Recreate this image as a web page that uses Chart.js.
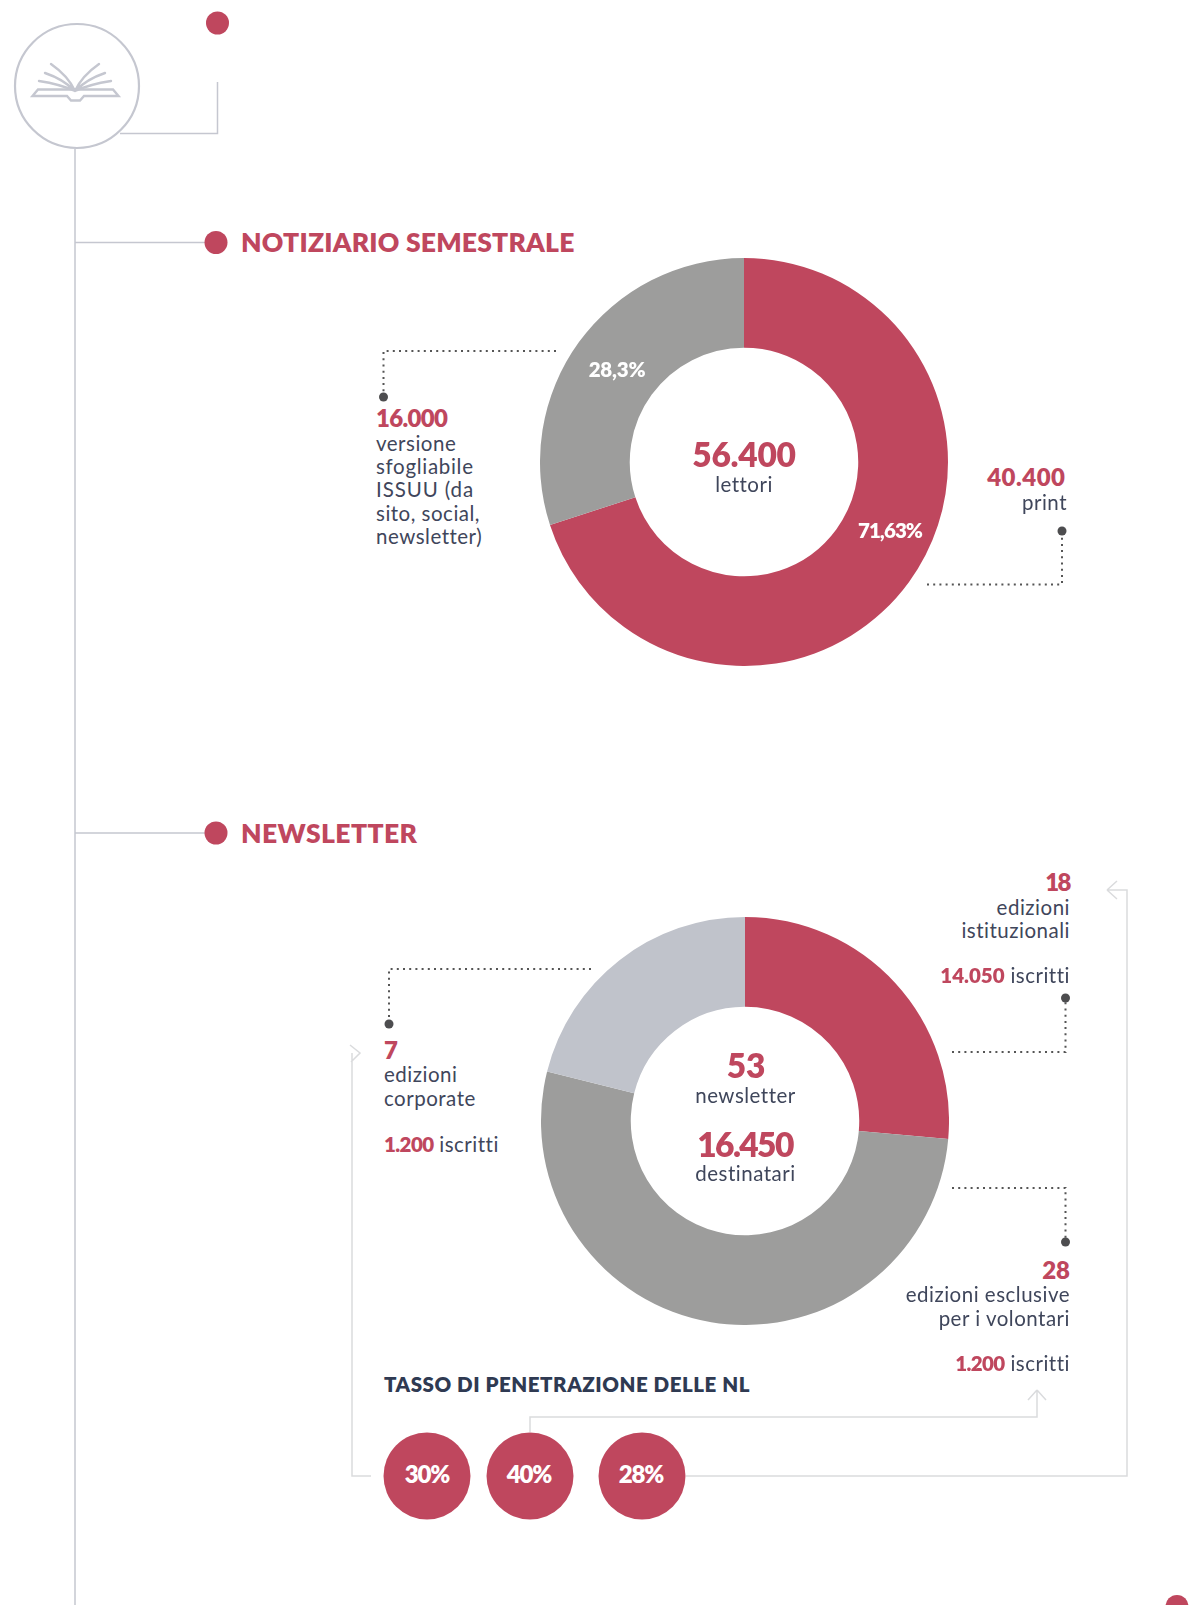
<!DOCTYPE html>
<html>
<head>
<meta charset="utf-8">
<title>Notiziario e newsletter</title>
<script src="https://cdn.jsdelivr.net/npm/chart.js@4"></script>
<style>
html, body { margin: 0; padding: 0; background: #fff; }
#page { position: relative; width: 1192px; height: 1605px; overflow: hidden; font-family: Lato, sans-serif; color: #3f465b; }
svg { position: absolute; left: 0; top: 0; }
canvas { position: absolute; }
.t { position: absolute; white-space: nowrap; line-height: 1; transform: translateY(-50%); font-size: 20.5px; font-weight: 400; letter-spacing: .5px; }
.r { color: #bf475e; font-weight: 800; letter-spacing: 0; }
.h { font-size: 26.5px; letter-spacing: .2px; }
.n { font-size: 24px; }
.big { font-size: 33.5px; letter-spacing: -.3px; }
.c { transform: translate(-50%, -50%); text-align: center; }
.e { transform: translate(-100%, -50%); text-align: right; }
.w { color: #fff; font-weight: 800; letter-spacing: -.2px; }
.p { font-size: 24px; letter-spacing: -1.2px; }
</style>
</head>
<body>
<div id="page">
  <svg width="1192" height="1605" fill="none">
    <g stroke="#c5c7d0" stroke-width="1.5">
      <circle cx="77" cy="86" r="62" stroke-width="2.2"/>
      <path d="M75 149V1605M75 242.5H206M75 833H206M120 133.5H217.5V82"/>
      <g stroke-width="2.4" stroke-linecap="round">
        <path d="M32.5 96L38 89.5H113L118.5 96H84L80 100.5H71L67 96Z"/>
        <path d="M75 91C70 80 61 71 51 64M99 64C89 71 80 80 75 91M75 91C67 83 57 77 45 73M105 73C93 77 83 83 75 91M75 91C64 86 52 83 39 81M111 81C98 83 86 86 75 91"/>
      </g>
    </g>
    <g fill="#bf475e">
      <circle cx="217.5" cy="23" r="11.5"/>
      <circle cx="216" cy="242.5" r="11.5"/>
      <circle cx="216" cy="833" r="11.5"/>
      <circle cx="1177" cy="1606.5" r="11.5"/>
      <circle cx="427" cy="1476" r="43.5"/>
      <circle cx="530" cy="1476" r="43.5"/>
      <circle cx="642" cy="1476" r="43.5"/>
    </g>
    <g stroke="#dadbdd" stroke-width="1.5">
      <path d="M371 1476H352V1053M350 1045L360 1053L351 1062"/>
      <path d="M686 1476H1127V890H1107M1107 890L1117 881M1107 890L1117 899"/>
      <path d="M530 1432V1417H1037V1390M1037 1390L1028 1400M1037 1390L1046 1400"/>
    </g>
    <g stroke="#555" stroke-width="2" stroke-dasharray="2 4.2">
      <path d="M556 351H383.5V392"/>
      <path d="M927 584.5H1062V535"/>
      <path d="M591 969H389V1020"/>
      <path d="M952 1052H1065.5V1002"/>
      <path d="M952 1188H1065.5V1238"/>
    </g>
    <g fill="#4d4d4f">
      <circle cx="383.5" cy="397" r="4.5"/>
      <circle cx="1062" cy="531" r="4.5"/>
      <circle cx="389" cy="1024" r="4.5"/>
      <circle cx="1065.5" cy="998" r="4.5"/>
      <circle cx="1065.5" cy="1242" r="4.5"/>
    </g>
  </svg>

  <canvas id="chartNotiziario" width="408" height="408" style="left:540px;top:258px"></canvas>
  <canvas id="chartNewsletter" width="408" height="408" style="left:541px;top:917px"></canvas>

  <div class="t r h" style="left:241px;top:242px">NOTIZIARIO SEMESTRALE</div>
  <div class="t r n" style="left:376px;top:418px;letter-spacing:-.7px">16.000</div>
  <div class="t" style="left:376px;top:443px">versione</div>
  <div class="t" style="left:376px;top:466px;letter-spacing:.7px">sfogliabile</div>
  <div class="t" style="left:376px;top:489px;letter-spacing:.9px">ISSUU (da</div>
  <div class="t" style="left:376px;top:512.5px">sito, social,</div>
  <div class="t" style="left:376px;top:536px">newsletter)</div>
  <div class="t r big c" style="left:744px;top:455px">56.400</div>
  <div class="t c" style="left:744px;top:484px">lettori</div>
  <div class="t w c" id="pct0" style="left:617px;top:369px"></div>
  <div class="t w c" id="pct1" style="left:890px;top:530px;letter-spacing:-.9px"></div>
  <div class="t r n e" style="left:1065.5px;top:477px;letter-spacing:.5px">40.400</div>
  <div class="t e" style="left:1067px;top:502px">print</div>

  <div class="t r h" style="left:241px;top:833px;letter-spacing:.4px">NEWSLETTER</div>
  <div class="t r big c" style="left:746px;top:1066px">53</div>
  <div class="t c" style="left:745.5px;top:1095px">newsletter</div>
  <div class="t r big c" style="left:745px;top:1145px;letter-spacing:-1.6px">16.450</div>
  <div class="t c" style="left:745.5px;top:1172.5px">destinatari</div>
  <div class="t r n e" style="left:1070px;top:882px;letter-spacing:-1.5px">18</div>
  <div class="t e" style="left:1070px;top:907px">edizioni</div>
  <div class="t e" style="left:1070px;top:930px">istituzionali</div>
  <div class="t e" style="left:1070px;top:975px"><span class="r">14.050</span> iscritti</div>
  <div class="t r n" style="left:384px;top:1050px">7</div>
  <div class="t" style="left:384px;top:1074px">edizioni</div>
  <div class="t" style="left:384px;top:1098px">corporate</div>
  <div class="t" style="left:384px;top:1144px"><span class="r" style="letter-spacing:-.6px">1.200</span> iscritti</div>
  <div class="t r n e" style="left:1070px;top:1270px">28</div>
  <div class="t e" style="left:1070px;top:1294px">edizioni esclusive</div>
  <div class="t e" style="left:1070px;top:1318px">per i volontari</div>
  <div class="t e" style="left:1070px;top:1363px"><span class="r" style="letter-spacing:-.6px">1.200</span> iscritti</div>
  <div class="t" style="left:384px;top:1384px;font-weight:800;color:#2f3a52;letter-spacing:.55px">TASSO DI PENETRAZIONE DELLE NL</div>
  <div class="t w c p" id="rate0" style="left:427px;top:1474px"></div>
  <div class="t w c p" id="rate1" style="left:529px;top:1474px"></div>
  <div class="t w c p" id="rate2" style="left:641px;top:1474px"></div>
</div>

<script>
// slices are read off the picture, the printed labels don't quite match them
const notiziarioCategories = ['print', 'versione sfogliabile ISSUU'];
const notiziarioSlices = [70, 30];
const notiziarioLabels = ['28,3%', '71,63%'];

const newsletterCategories = ['edizioni istituzionali', 'edizioni esclusive per i volontari', 'edizioni corporate'];
const newsletterSlices = [26.4, 52.5, 21.1];

const penetrationRates = ['30%', '40%', '28%'];

const RED = '#bf475e';
const GREY = '#9d9d9c';
const LIGHT = '#c0c3cb';

function makeDonut(id, categories, values, colors) {
    new Chart(document.getElementById(id), {
        type: 'doughnut',
        data: {
            labels: categories,
            datasets: [{ data: values, backgroundColor: colors, borderWidth: 0 }]
        },
        options: {
            responsive: false,
            animation: false,
            cutout: '56%',
            plugins: { legend: { display: false }, tooltip: { enabled: false } }
        }
    });
}

makeDonut('chartNotiziario', notiziarioCategories, notiziarioSlices, [RED, GREY]);
makeDonut('chartNewsletter', newsletterCategories, newsletterSlices, [RED, GREY, LIGHT]);

notiziarioLabels.forEach((txt, i) => { document.getElementById('pct' + i).innerText = txt; });
penetrationRates.forEach((txt, i) => { document.getElementById('rate' + i).innerText = txt; });
</script>
</body>
</html>
